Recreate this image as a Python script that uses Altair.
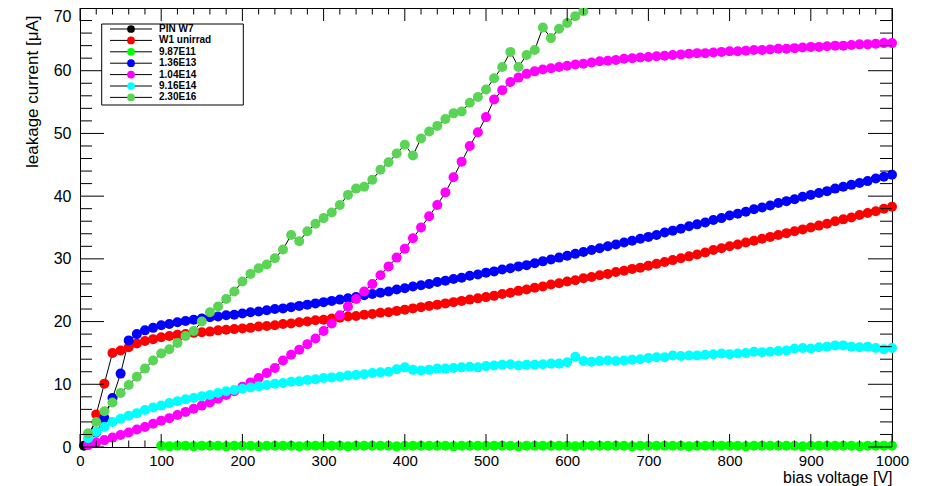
import altair as alt
import pandas as pd

# ---------------- data ----------------
SERIES = ["PIN W7", "W1 unirrad", "9.87E11", "1.36E13", "1.04E14", "9.16E14", "2.30E16"]
COLORS = ["#000000", "#ff0000", "#00ff00", "#0000ff", "#ff00ff", "#00ffff", "#59d454"]

V_PIN = [5]
I_PIN = [0.2]

V_STD = list(range(10, 1001, 10))

I_W1 = [0.4, 5.2, 10.1, 15.0, 15.4, 15.9, 16.5, 16.9, 17.2, 17.5,
        17.7, 17.9, 18.0, 18.2, 18.3, 18.4, 18.6, 18.7, 18.8, 18.9,
        19.0, 19.2, 19.3, 19.4, 19.6, 19.7, 19.9, 20.0, 20.2, 20.3,
        20.5, 20.6, 20.8, 20.9, 21.1, 21.2, 21.4, 21.5, 21.7, 21.9,
        22.1, 22.3, 22.5, 22.7, 22.9, 23.1, 23.3, 23.5, 23.7, 23.9,
        24.1, 24.4, 24.6, 24.9, 25.1, 25.4, 25.6, 25.9, 26.1, 26.4,
        26.6, 26.9, 27.1, 27.4, 27.6, 27.9, 28.1, 28.4, 28.6, 28.9,
        29.2, 29.5, 29.8, 30.1, 30.4, 30.7, 31.0, 31.4, 31.7, 32.0,
        32.3, 32.6, 32.9, 33.2, 33.5, 33.8, 34.1, 34.4, 34.7, 35.0,
        35.3, 35.6, 36.0, 36.3, 36.6, 37.0, 37.3, 37.6, 38.0, 38.3]

V_LOW = list(range(100, 1001, 10))
I_987E11 = [0.2, 0.1, 0.2, 0.2, 0.1, 0.2, 0.2, 0.2, 0.1, 0.2,
            0.2, 0.2, 0.1, 0.2, 0.2, 0.2, 0.2, 0.1, 0.2, 0.2,
            0.2, 0.2, 0.2, 0.1, 0.2, 0.2, 0.2, 0.2, 0.2, 0.1,
            0.2, 0.2, 0.2, 0.2, 0.2, 0.2, 0.1, 0.2, 0.2, 0.2,
            0.2, 0.2, 0.2, 0.2, 0.1, 0.2, 0.2, 0.2, 0.2, 0.2,
            0.2, 0.1, 0.2, 0.2, 0.2, 0.2, 0.2, 0.2, 0.1, 0.2,
            0.2, 0.2, 0.2, 0.2, 0.2, 0.1, 0.2, 0.2, 0.2, 0.2,
            0.2, 0.2, 0.1, 0.2, 0.2, 0.2, 0.2, 0.2, 0.2, 0.1,
            0.2, 0.2, 0.2, 0.2, 0.2, 0.2, 0.1, 0.2, 0.2, 0.2,
            0.2]

I_136E13 = [0.5, 2.3, 4.6, 7.8, 11.7, 17.0, 18.0, 18.6, 19.0, 19.4,
            19.6, 19.9, 20.1, 20.3, 20.5, 20.7, 20.8, 21.0, 21.1, 21.3,
            21.5, 21.6, 21.8, 22.0, 22.1, 22.3, 22.5, 22.7, 22.9, 23.1,
            23.3, 23.5, 23.7, 23.9, 24.2, 24.4, 24.6, 24.8, 25.1, 25.3,
            25.6, 25.8, 26.0, 26.3, 26.5, 26.8, 27.0, 27.3, 27.5, 27.8,
            28.0, 28.3, 28.5, 28.8, 29.0, 29.3, 29.6, 29.9, 30.2, 30.5,
            30.8, 31.1, 31.4, 31.7, 32.0, 32.3, 32.6, 32.9, 33.2, 33.5,
            33.8, 34.2, 34.5, 34.8, 35.2, 35.5, 35.8, 36.2, 36.5, 36.9,
            37.2, 37.5, 37.9, 38.2, 38.5, 38.9, 39.2, 39.5, 39.9, 40.2,
            40.5, 40.8, 41.2, 41.5, 41.8, 42.1, 42.4, 42.8, 43.1, 43.4]

I_104E14 = [0.3, 0.7, 1.1, 1.5, 1.9, 2.3, 2.8, 3.2, 3.7, 4.2,
            4.6, 5.1, 5.6, 6.1, 6.6, 7.1, 7.7, 8.3, 8.9, 9.6,
            10.3, 11.0, 11.8, 12.6, 13.8, 14.7, 15.5, 16.4, 17.3, 18.5,
            19.7, 21.0, 22.4, 23.6, 24.8, 26.0, 27.4, 28.8, 30.2, 31.6,
            33.3, 35.0, 36.8, 38.6, 40.6, 43.0, 45.5, 48.0, 50.2, 52.6,
            55.4, 56.9, 58.2, 58.9, 59.5, 59.9, 60.2, 60.4, 60.6, 60.8,
            61.0, 61.1, 61.3, 61.5, 61.6, 61.7, 61.9, 62.0, 62.1, 62.2,
            62.3, 62.4, 62.5, 62.6, 62.7, 62.8, 62.8, 62.9, 63.0, 63.1,
            63.1, 63.2, 63.3, 63.3, 63.4, 63.5, 63.5, 63.6, 63.7, 63.8,
            63.8, 63.9, 64.0, 64.0, 64.1, 64.2, 64.2, 64.3, 64.4, 64.4]

I_916E14 = [1.4, 2.4, 3.2, 4.0, 4.5, 5.0, 5.4, 5.9, 6.3, 6.6,
            7.0, 7.3, 7.6, 7.8, 8.1, 8.3, 8.6, 8.9, 9.1, 9.3,
            9.5, 9.7, 9.9, 10.1, 10.2, 10.4, 10.5, 10.7, 10.8, 11.0,
            11.1, 11.2, 11.4, 11.5, 11.6, 11.8, 11.9, 12.0, 12.4, 12.7,
            12.3, 12.2, 12.3, 12.5, 12.5, 12.6, 12.7, 12.8, 12.7, 12.9,
            13.0, 13.1, 13.2, 13.0, 13.1, 13.1, 13.2, 13.3, 13.3, 13.5,
            14.4, 13.7, 13.6, 13.7, 13.8, 13.7, 13.8, 13.9, 14.0, 14.2,
            14.3, 14.3, 14.6, 14.5, 14.6, 14.6, 14.7, 14.8, 14.9, 14.8,
            14.9, 15.0, 15.2, 15.1, 15.2, 15.3, 15.4, 15.7, 15.8, 15.7,
            15.9, 16.0, 16.2, 16.2, 16.0, 15.9, 16.0, 15.8, 15.6, 15.8]

V_230E16 = list(range(10, 641, 10))
I_230E16 = [2.2, 4.0, 5.7, 7.1, 8.6, 9.9, 11.2, 12.5, 13.8, 14.9,
            15.6, 16.6, 17.7, 18.5, 20.0, 21.5, 22.4, 23.6, 24.8, 26.4,
            27.6, 28.5, 29.1, 30.1, 31.5, 33.8, 32.8, 34.4, 35.6, 36.5,
            37.4, 38.6, 40.2, 41.2, 41.5, 42.6, 44.2, 45.4, 46.8, 48.2,
            46.5, 49.2, 50.3, 51.2, 52.3, 53.2, 53.5, 54.9, 55.8, 57.0,
            58.8, 60.6, 63.0, 60.6, 62.5, 63.3, 66.9, 65.2, 66.7, 67.6,
            68.7, 69.5, 70.6, 71.8]

X_TICK_LABELS = list(range(0, 1001, 100))
Y_TICK_LABELS = list(range(0, 71, 10))
X_MINOR = [v for v in range(0, 1001, 20) if v % 100]
Y_MINOR = [v for v in range(0, 71, 2) if v % 10]

# ---------------- build table ----------------
parts = [
    (SERIES[0], V_PIN, I_PIN),
    (SERIES[1], V_STD, I_W1),
    (SERIES[2], V_LOW, I_987E11),
    (SERIES[3], V_STD, I_136E13),
    (SERIES[4], V_STD, I_104E14),
    (SERIES[5], V_STD, I_916E14),
    (SERIES[6], V_230E16, I_230E16),
]
frames = []
for name, vs, cs in parts:
    assert len(vs) == len(cs), name
    frames.append(pd.DataFrame({"V": vs, "I": cs, "series": name}))
df = pd.concat(frames, ignore_index=True)
df["idx"] = range(len(df))

W, H = 812, 439
FONT = "Liberation Sans"

XS = alt.Scale(domain=[0, 1000], nice=False, zero=False)
YS = alt.Scale(domain=[0, 70], nice=False, zero=False)

x_axis = alt.Axis(values=X_TICK_LABELS, format="d", ticks=False, domain=False,
                  grid=False, labelFlush=False, labelOverlap=False, labelPadding=6,
                  labelFontSize=15, title="bias voltage [V]", titleX=W, titleY=35,
                  titleAlign="right", titleBaseline="alphabetic", titleFontSize=16,
                  titleFontWeight="normal")
y_axis = alt.Axis(values=Y_TICK_LABELS, format="d", ticks=False, domain=False,
                  grid=False, labelOverlap=False, labelPadding=9, labelFontSize=16,
                  labelBaseline=alt.condition("datum.value >= 70", alt.value("top"), alt.value("middle")),
                  title="leakage current [μA]", titleX=-43, titleY=7, titleAngle=270,
                  titleAlign="right", titleBaseline="alphabetic", titleFontSize=17,
                  titleFontWeight="normal")

base = alt.Chart(df)
lines = base.mark_line(color="black", strokeWidth=1, clip=True).encode(
    x=alt.X("V:Q", scale=XS, axis=x_axis),
    y=alt.Y("I:Q", scale=YS, axis=y_axis),
    detail="series:N",
    order=alt.Order("idx:Q"),
)
points = base.transform_filter("datum.I <= 70").mark_circle(size=100, opacity=1).encode(
    x=alt.X("V:Q", scale=XS),
    y=alt.Y("I:Q", scale=YS),
    color=alt.Color("series:N", scale=alt.Scale(domain=SERIES, range=COLORS), legend=None),
)


def xticks(vals, y0, y1):
    return alt.Chart(pd.DataFrame({"V": vals})).mark_rule(color="black", strokeWidth=1).encode(
        x=alt.X("V:Q", scale=XS), y=alt.value(y0), y2=alt.value(y1))


def yticks(vals, x0, x1):
    return alt.Chart(pd.DataFrame({"I": vals})).mark_rule(color="black", strokeWidth=1).encode(
        y=alt.Y("I:Q", scale=YS), x=alt.value(x0), x2=alt.value(x1))


ticks = [
    xticks(X_TICK_LABELS, H, H - 13), xticks(X_MINOR, H, H - 6.5),
    xticks(X_TICK_LABELS, 0, 13), xticks(X_MINOR, 0, 6.5),
    yticks(Y_TICK_LABELS, 0, 24), yticks(Y_MINOR, 0, 12),
    yticks(Y_TICK_LABELS, W, W - 24), yticks(Y_MINOR, W, W - 12),
]

main = alt.layer(lines, points, *ticks)

# ---------------- legend (drawn as marks) ----------------
leg_df = pd.DataFrame({"label": SERIES})
leg_y = alt.Y("label:N", sort=SERIES, axis=None,
              scale=alt.Scale(type="point", range=[21, 89.4], padding=0))
leg_box = alt.Chart(pd.DataFrame({"a": [0]})).mark_rect(
    fill="white", stroke="black", strokeWidth=1).encode(
    x=alt.value(21.7), x2=alt.value(163.3), y=alt.value(16), y2=alt.value(97))
leg_line = alt.Chart(leg_df).mark_rule(color="black", strokeWidth=1).encode(
    y=leg_y, x=alt.value(30), x2=alt.value(72))
leg_pt = alt.Chart(leg_df).mark_circle(size=60, opacity=1).encode(
    y=leg_y, x=alt.value(51),
    color=alt.Color("label:N", scale=alt.Scale(domain=SERIES, range=COLORS), legend=None))
leg_txt = alt.Chart(leg_df).mark_text(align="left", baseline="middle", font=FONT,
                                      fontSize=10, fontWeight="bold", color="black").encode(
    y=leg_y, x=alt.value(79), text="label:N")
legend = alt.layer(leg_box, leg_line, leg_pt, leg_txt)

chart = alt.layer(main, legend).resolve_scale(
    y="independent", color="independent"
).properties(
    width=W, height=H,
    autosize=alt.AutoSizeParams(type="none"),
    padding={"left": 72, "top": 0, "right": 20, "bottom": 42},
    background="white",
).configure_view(
    stroke="black", strokeWidth=1
).configure_axis(
    labelFont=FONT, titleFont=FONT, labelColor="black", titleColor="black"
)

chart.save("out.html", embed_options={"renderer": "svg", "actions": False})
